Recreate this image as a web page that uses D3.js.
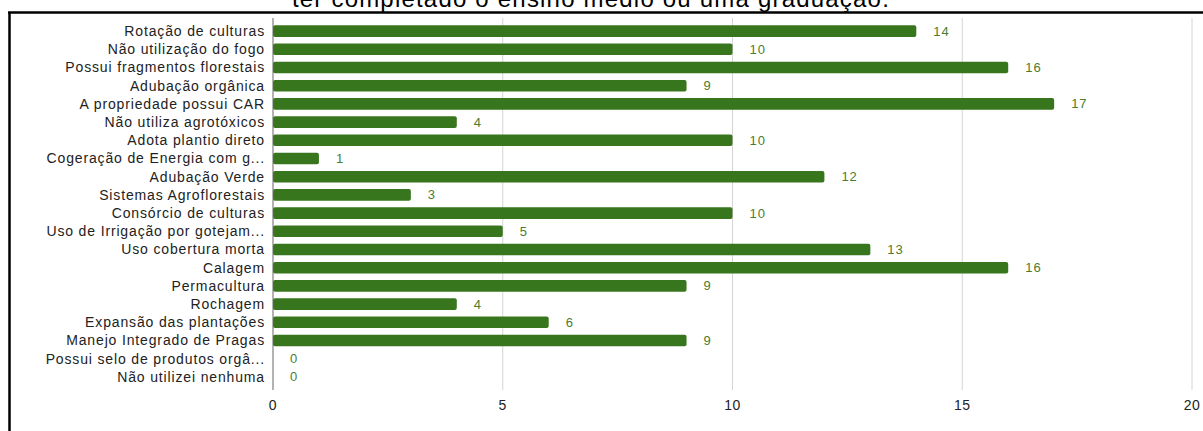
<!DOCTYPE html>
<html>
<head>
<meta charset="utf-8">
<script src="https://cdn.jsdelivr.net/npm/d3@7"></script>
<style>
  html, body { margin: 0; padding: 0; background: #fff; }
  svg { display: block; }
  text { font-family: "Liberation Sans", Arial, sans-serif; }
</style>
</head>
<body>
<svg id="chart" width="1203" height="431"></svg>
<script>
// Práticas adotadas e número de respostas
const categories = [
  "Rotação de culturas",
  "Não utilização do fogo",
  "Possui fragmentos florestais",
  "Adubação orgânica",
  "A propriedade possui CAR",
  "Não utiliza agrotóxicos",
  "Adota plantio direto",
  "Cogeração de Energia com g...",
  "Adubação Verde",
  "Sistemas Agroflorestais",
  "Consórcio de culturas",
  "Uso de Irrigação por gotejam...",
  "Uso cobertura morta",
  "Calagem",
  "Permacultura",
  "Rochagem",
  "Expansão das plantações",
  "Manejo Integrado de Pragas",
  "Possui selo de produtos orgâ...",
  "Não utilizei nenhuma"
];
const values = [14, 10, 16, 9, 17, 4, 10, 1, 12, 3, 10, 5, 13, 16, 9, 4, 6, 9, 0, 0];
const xTicks = [0, 5, 10, 15, 20];
const titleText = "ter completado o ensino médio ou uma graduação.";

const svg = d3.select("#chart");
const barColor = "#38761d";

const x = d3.scaleLinear().domain([0, 20]).range([273, 1192]);
const y = d3.scaleBand().domain(categories).range([22, 386]).paddingInner(0.36).paddingOuter(0.18);

// frame lines
svg.append("line").attr("x1", 8).attr("x2", 1203).attr("y1", 12.5).attr("y2", 12.5)
  .attr("stroke", "#000").attr("stroke-width", 2.5);
svg.append("line").attr("x1", 9.5).attr("x2", 9.5).attr("y1", 12).attr("y2", 431)
  .attr("stroke", "#000").attr("stroke-width", 2.5);

// title (continues above the top edge)
svg.append("text")
  .attr("x", 591).attr("y", 7)
  .attr("text-anchor", "middle")
  .attr("font-size", 24)
  .attr("letter-spacing", 1.2)
  .attr("fill", "#000")
  .text(titleText);

// vertical gridlines
svg.append("g").selectAll("line").data(xTicks.filter(d => d > 0)).join("line")
  .attr("x1", d => x(d)).attr("x2", d => x(d))
  .attr("y1", 18).attr("y2", 390)
  .attr("stroke", "#d4d4d4").attr("stroke-width", 1);

// bars
svg.append("g").selectAll("rect").data(values).join("rect")
  .attr("x", x(0))
  .attr("y", (d, i) => y(categories[i]))
  .attr("height", y.bandwidth())
  .attr("width", d => Math.max(0, x(d) - x(0)))
  .attr("rx", 2)
  .attr("fill", barColor);

// zero baseline
svg.append("line").attr("x1", x(0)).attr("x2", x(0)).attr("y1", 18).attr("y2", 390)
  .attr("stroke", "#666").attr("stroke-width", 1);

// value labels
svg.append("g").selectAll("text").data(values).join("text")
  .attr("x", d => x(d) + 17)
  .attr("y", (d, i) => y(categories[i]) + y.bandwidth() / 2)
  .attr("dy", "0.35em")
  .attr("font-size", 13)
  .attr("letter-spacing", 1)
  .attr("fill", "#4a7d2e")
  .text(d => d);

// category labels
svg.append("g").selectAll("text").data(categories).join("text")
  .attr("x", 265)
  .attr("y", d => y(d) + y.bandwidth() / 2)
  .attr("dy", "0.35em")
  .attr("text-anchor", "end")
  .attr("font-size", 14)
  .attr("letter-spacing", 0.85)
  .attr("fill", "#222")
  .text(d => d);

// x axis tick labels
svg.append("g").selectAll("text").data(xTicks).join("text")
  .attr("x", d => x(d))
  .attr("y", 405)
  .attr("dy", "0.35em")
  .attr("text-anchor", "middle")
  .attr("font-size", 14)
  .attr("letter-spacing", 0.5)
  .attr("fill", "#222")
  .text(d => d);
</script>
</body>
</html>
